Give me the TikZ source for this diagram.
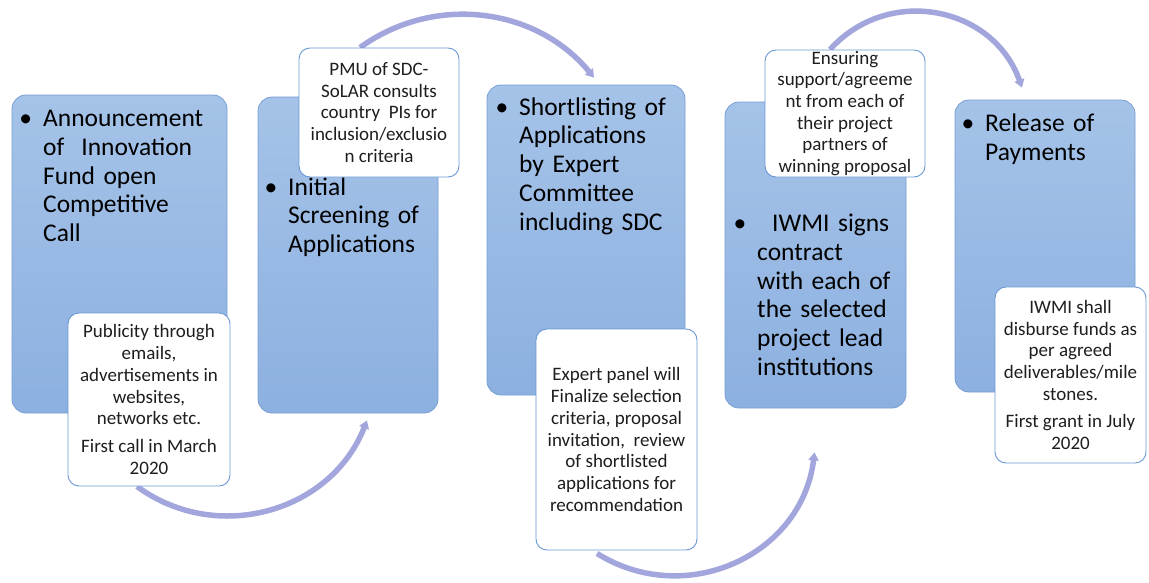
\documentclass[tikz,border=0pt]{standalone}
\usepackage{fontspec}
\setmainfont{Carlito}
\usetikzlibrary{arrows.meta,backgrounds}

\definecolor{boxtop}{RGB}{165,195,232}
\definecolor{boxbot}{RGB}{140,176,224}
\definecolor{boxline}{RGB}{120,158,210}
\definecolor{noteline}{RGB}{105,152,212}
\definecolor{notetext}{RGB}{30,30,30}
\definecolor{flowc}{RGB}{162,166,220}

\tikzset{
  stepbox/.style={draw=boxline, line width=0.8pt, rounded corners=14pt, top color=boxtop, bottom color=boxbot, inner sep=0pt},
  steptext/.style={anchor=base west, text width=190pt, align=left, inner sep=0pt, font=\fontsize{25.5}{28.75}\selectfont},
  note/.style={draw=noteline, line width=0.9pt, fill=white, rounded corners=11pt, align=center, inner sep=0pt, text=notetext, font=\fontsize{19}{21.7}\selectfont},
  flow/.style={draw=flowc, line width=5.5pt, -{Triangle[length=8pt,width=10pt]}}
}
\newcommand{\bul}{\llap{\textbullet\hspace{11pt}}}

\begin{document}
\begin{tikzpicture}[x=1pt,y=-1pt]
  \useasboundingbox (0,0) rectangle (1149,582);

  % steps
  \node[stepbox, minimum width=215pt, minimum height=318pt] (b1) at (119.5,254) {};
  \node[stepbox, minimum width=180pt, minimum height=316pt] (b2) at (348,255) {};
  \node[stepbox, minimum width=198pt, minimum height=310pt] (b3) at (586,240) {};
  \node[stepbox, minimum width=181pt, minimum height=306pt] (b4) at (815.5,255) {};
  \node[stepbox, minimum width=180pt, minimum height=292pt] (b5) at (1045,246) {};

  \node[steptext] (t1) at (43,126.7) {\bul Announcement\\of\ \ Innovation\\Fund open\\Competitive\\Call};
  \node[steptext] (t2) at (288,195) {\bul Initial\\Screening of\\Applications};
  \node[steptext] (t3) at (519,115) {\bul Shortlisting of\\Applications\\by Expert\\Committee\\including SDC};
  \node[steptext] (t4) at (757,231.7) {\bul\hspace{15pt}IWMI signs\\contract\\with each of\\the selected\\project lead\\institutions};
  \node[steptext] (t5) at (985,131.7) {\bul Release of\\Payments};

  % notes
  \node[note, minimum width=162pt, minimum height=173pt] (c1) at (149,399.5)
    {Publicity through\\emails,\\advertisements in\\websites,\\networks etc.\\[6pt]First call in March\\2020};
  \node[note, minimum width=160pt, minimum height=129pt] (c2) at (379,112.5)
    {PMU of SDC-\\SoLAR consults\\country\ \ PIs for\\inclusion/exclusio\\n criteria};
  \node[note, minimum width=161pt, minimum height=221pt] (c3) at (616.5,439.5)
    {Expert panel will\\Finalize selection\\criteria, proposal\\invitation,\ \ review\\of shortlisted\\applications for\\recommendation};
  \node[note, minimum width=160pt, minimum height=127pt] (c4) at (845,113.5)
    {Ensuring\\support/agreeme\\nt from each of\\their project\\partners of\\winning proposal};
  \node[note, minimum width=151pt, minimum height=176pt] (c5) at (1070.5,375)
    {IWMI shall\\disburse funds as\\per agreed\\deliverables/mile\\stones.\\[6pt]First grant in July\\2020};

  % arrows
  \coordinate (a1s) at ([xshift=-12pt]c1.south);
  \coordinate (a1e) at ([xshift=19pt,yshift=-7pt]b2.south);
  \coordinate (a2s) at ([xshift=-19pt]c2.north);
  \coordinate (a2e) at ([xshift=8pt,yshift=7pt]b3.north);
  \coordinate (a3s) at ([xshift=-19.5pt,yshift=-3pt]c3.south);
  \coordinate (a3e) at ([xshift=-1pt,yshift=-44pt]b4.south);
  \coordinate (a4s) at ([xshift=-15pt]c4.north);
  \coordinate (a4e) at ([xshift=-23pt,yshift=12pt]b5.north);
  \begin{scope}[on background layer]
    \draw[flow] (a1s) .. controls (217,545) and (331,512) .. (a1e);
    \draw[flow] (a2s) .. controls (434,-6) and (536,7) .. (a2e);
    \draw[flow] (a3s) .. controls (686,609) and (802,555) .. (a3e);
    \draw[flow] (a4s) .. controls (888,-15) and (993,6) .. (a4e);
  \end{scope}
\end{tikzpicture}
\end{document}
